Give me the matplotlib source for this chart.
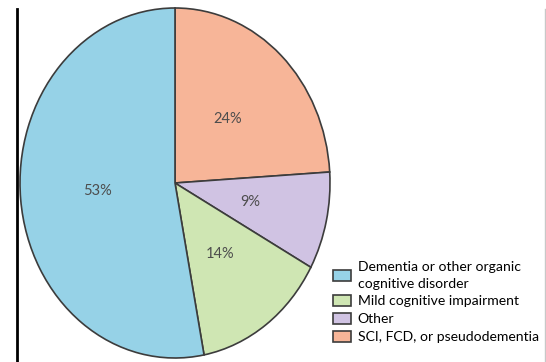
import matplotlib.pyplot as plt
from matplotlib.lines import Line2D

# share of referrals by final diagnosis (clockwise from 12 o'clock)
categories = ["SCI, FCD, or pseudodementia", "Other",
              "Mild cognitive impairment",
              "Dementia or other organic\ncognitive disorder"]
shares = [24, 9, 14, 53]
colors = ["#f7b598", "#d0c3e3", "#cfe6b3", "#96d2e7"]
legend_order = [3, 2, 1, 0]

W, H = 546, 362
fig = plt.figure(figsize=(W / 100, H / 100), dpi=100)
plt.rcParams['font.family'] = ['Lato', 'DejaVu Sans']

# pie box in pixels: centre (175, 183), half-width 155, half-height 175
cx, cy, rx, ry = 175, 183, 155, 175
ax = fig.add_axes([(cx - rx) / W, (H - cy - ry) / H, 2 * rx / W, 2 * ry / H])
wedges, texts, autotexts = ax.pie(
    shares, colors=colors, startangle=90, counterclock=False,
    autopct=lambda p: f"{p:.0f}%", pctdistance=0.5,
    wedgeprops=dict(edgecolor="#3c3c3c", linewidth=1.2),
    textprops=dict(fontsize=10.5, color="#4d4d4d"))
ax.set_aspect('auto')
ax.set_xlim(-1, 1)
ax.set_ylim(-1, 1)

handles = [wedges[i] for i in legend_order]
labels = [categories[i] for i in legend_order]
leg = fig.legend(handles, labels, loc='lower left',
                 bbox_to_anchor=(333 / W, 19 / H), frameon=False,
                 fontsize=10.1, handlelength=1.3, handleheight=0.85,
                 handletextpad=0.45, labelspacing=0.38, borderaxespad=0,
                 borderpad=0)
leg.get_texts()[0].set_linespacing(1.5)

# frame lines at the left and right edges
fig.add_artist(Line2D([17 / W, 17 / W], [0, 1 - 9 / H], color="black", lw=2))
fig.add_artist(Line2D([545 / W, 545 / W], [0, 1 - 9 / H], color="#c8c8c8", lw=1))

fig.savefig("out.png", dpi=100)
